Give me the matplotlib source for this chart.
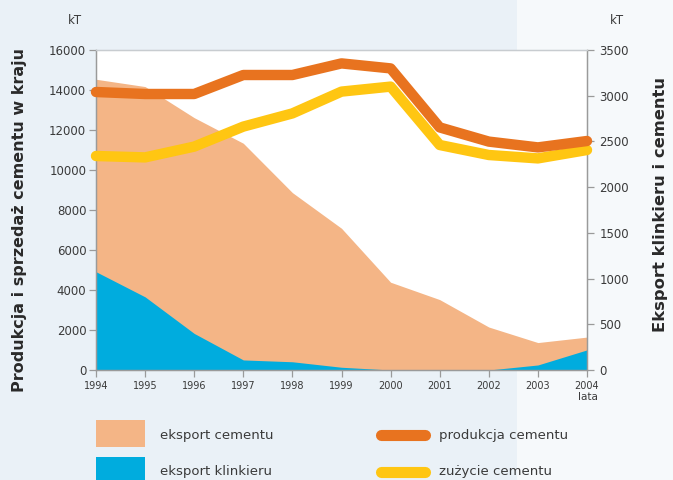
import matplotlib
matplotlib.use("Agg")
import matplotlib.pyplot as plt
from matplotlib.patches import Rectangle
from matplotlib.lines import Line2D

years = [1994, 1995, 1996, 1997, 1998, 1999, 2000, 2001, 2002, 2003, 2004]
year_labels = [str(y) for y in years]

# right axis (kT): exports
eksport_cementu = [3180, 3100, 2760, 2480, 1940, 1550, 960, 770, 470, 300, 360]
eksport_klinkieru = [1075, 800, 400, 110, 90, 30, 0, 0, 0, 55, 220]

# left axis (kT): production and consumption
produkcja_cementu = [13900, 13800, 13800, 14750, 14750, 15330, 15080, 12130, 11420, 11130, 11450]
zuzycie_cementu = [10700, 10630, 11170, 12170, 12830, 13920, 14170, 11250, 10750, 10580, 11000]

left_ticks = [0, 2000, 4000, 6000, 8000, 10000, 12000, 14000, 16000]
right_ticks = [0, 500, 1000, 1500, 2000, 2500, 3000, 3500]

C_ORANGE_AREA = "#F4B586"
C_BLUE_AREA = "#00ACDE"
C_PROD = "#E8731F"
C_CONS = "#FFC612"
BG = "#EAF1F7"
TXT = "#3a3a3a"
SPINE = "#9a9a9a"

fig = plt.figure(figsize=(6.73, 4.80), dpi=100, facecolor=BG)
fig.patches.append(Rectangle((0.768, 0), 0.232, 1, transform=fig.transFigure,
                             facecolor="#F6F9FB", edgecolor="none", zorder=-10))

ax = fig.add_axes([96/673, 1-370/480, (587-96)/673, 320/480])
ax.set_facecolor("white")
ax2 = ax.twinx()

# areas on right-scale axis
ax.fill_between(years, 0, eksport_cementu, color=C_ORANGE_AREA, linewidth=0, zorder=1)
ax.fill_between(years, 0, eksport_klinkieru, color=C_BLUE_AREA, linewidth=0, zorder=2)
ax.set_xlim(1994, 2004)
ax.set_ylim(0, 3500)
ax.set_yticks(right_ticks)
ax.set_yticklabels([str(t) for t in right_ticks])
ax.set_xticks(years)
ax.set_xticklabels(year_labels)

ax2.plot(years, zuzycie_cementu, color=C_CONS, linewidth=7.5, solid_capstyle="round",
         solid_joinstyle="round", clip_on=False, zorder=3)
ax2.plot(years, produkcja_cementu, color=C_PROD, linewidth=7.5, solid_capstyle="round",
         solid_joinstyle="round", clip_on=False, zorder=4)
ax2.set_ylim(0, 16000)
ax2.set_yticks(left_ticks)
ax2.set_yticklabels([str(t) for t in left_ticks])

# swap sides: exports scale on the right, production scale on the left
ax.yaxis.tick_right()
ax2.yaxis.tick_left()

for a in (ax, ax2):
    for s in a.spines.values():
        s.set_color(SPINE)
        s.set_linewidth(0.9)
    a.spines["top"].set_color("#c8ccd0")
    a.tick_params(axis="both", colors=SPINE, labelcolor=TXT, labelsize=8.5,
                  length=5, width=0.9, direction="out")
ax.tick_params(axis="x", labelsize=7, pad=3)
ax2.tick_params(axis="y", pad=2)
ax.tick_params(axis="y", pad=4)

# axis titles
fig.text(20/673, 1-220/480, "Produkcja i sprzedaż cementu w kraju", rotation=90,
         ha="center", va="center", fontsize=11.5, fontweight="bold", color="#2a2a2a")
fig.text(661/673, 1-205/480, "Eksport klinkieru i cementu", rotation=90,
         ha="center", va="center", fontsize=11.8, fontweight="bold", color="#2a2a2a")
fig.text(75/673, 1-20/480, "kT", ha="center", va="center", fontsize=8.5, color=TXT)
fig.text(617/673, 1-20/480, "kT", ha="center", va="center", fontsize=8.5, color=TXT)
fig.text(588/673, 1-397/480, "lata", ha="center", va="center", fontsize=7.5, color=TXT)

# legend
fig.patches.append(Rectangle((96/673, 1-447/480), 49/673, 27/480, transform=fig.transFigure,
                             facecolor=C_ORANGE_AREA, edgecolor="none"))
fig.patches.append(Rectangle((96/673, 1-484/480), 49/673, 27/480, transform=fig.transFigure,
                             facecolor=C_BLUE_AREA, edgecolor="none"))
fig.text(160/673, 1-435/480, "eksport cementu", ha="left", va="center", fontsize=9.5, color=TXT)
fig.text(160/673, 1-471/480, "eksport klinkieru", ha="left", va="center", fontsize=9.5, color=TXT)
fig.add_artist(Line2D([381/673, 425/673], [1-435/480, 1-435/480], transform=fig.transFigure,
                      color=C_PROD, linewidth=8, solid_capstyle="round"))
fig.add_artist(Line2D([381/673, 425/673], [1-472/480, 1-472/480], transform=fig.transFigure,
                      color=C_CONS, linewidth=8, solid_capstyle="round"))
fig.text(439/673, 1-435/480, "produkcja cementu", ha="left", va="center", fontsize=9.5, color=TXT)
fig.text(439/673, 1-471/480, "zużycie cementu", ha="left", va="center", fontsize=9.5, color=TXT)

fig.savefig("out.png", dpi=100, facecolor=fig.get_facecolor())
